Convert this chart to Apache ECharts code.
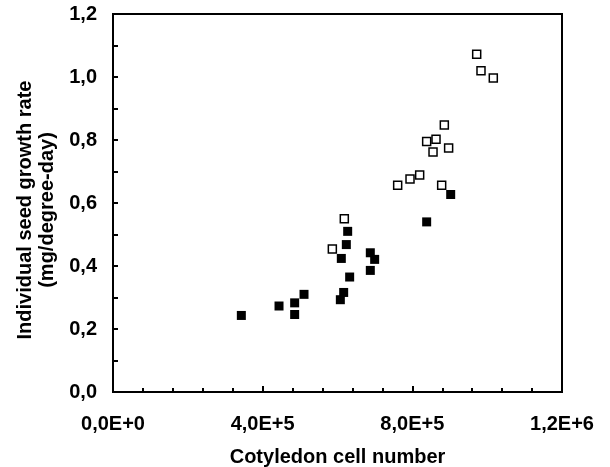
<!DOCTYPE html>
<html>
<head>
<meta charset="utf-8">
<script src="https://cdn.jsdelivr.net/npm/echarts@6/dist/echarts.min.js"></script>
<style>html,body{margin:0;padding:0;background:#fff;}#c{width:610px;height:467px;}</style>
</head>
<body>
<div id="c"></div>
<script>
// Open squares: [cell number, growth rate]
const openX = [972000, 983500, 1016400, 885500, 838300, 863300, 897000, 855300, 760800, 793800, 819600, 878400, 618200, 586200];
const openY = [1.072, 1.020, 0.997, 0.848, 0.795, 0.802, 0.775, 0.762, 0.656, 0.676, 0.689, 0.656, 0.550, 0.454];
// Filled squares
const filledX = [902500, 838300, 627200, 623600, 610200, 687700, 699300, 687700, 632500, 616500, 607600, 510500, 485500, 443700, 485500, 343000];
const filledY = [0.627, 0.540, 0.510, 0.468, 0.424, 0.442, 0.421, 0.386, 0.365, 0.316, 0.293, 0.310, 0.283, 0.273, 0.246, 0.243];
const xTicks = [0, 400000, 800000, 1200000];
const yTicks = [0, 0.2, 0.4, 0.6, 0.8, 1.0, 1.2];
const xName = 'Cotyledon cell number';
const yName = 'Individual seed growth rate\n(mg/degree-day)';

function sci(v) {
  if (v === 0) return '0,0E+0';
  const e = Math.floor(Math.log10(v) + 1e-9);
  const m = v / Math.pow(10, e);
  return m.toFixed(1).replace('.', ',') + 'E+' + e;
}
const font = 'Liberation Sans, Arial, sans-serif';
const chart = echarts.init(document.getElementById('c'), null, {renderer: 'canvas'});
chart.setOption({
  animation: false,
  backgroundColor: '#fff',
  grid: {left: 113, top: 14, right: 48, bottom: 75, containLabel: false, outerBoundsMode: 'none',
         show: true, borderColor: '#000', borderWidth: 2, backgroundColor: 'transparent'},
  xAxis: {
    type: 'value', min: xTicks[0], max: xTicks[xTicks.length - 1], interval: 400000,
    name: xName, nameLocation: 'middle', nameGap: 55,
    nameTextStyle: {fontFamily: font, fontWeight: 'bold', fontSize: 20, color: '#000'},
    axisLine: {show: true, lineStyle: {color: '#000', width: 2}},
    axisTick: {show: true, inside: true, length: 6, lineStyle: {color: '#000', width: 2}},
    minorTick: {show: true, splitNumber: 5, length: 4, lineStyle: {color: '#000', width: 2}},
    splitLine: {show: false},
    axisLabel: {margin: 22, fontFamily: font, fontWeight: 'bold', fontSize: 20, color: '#000', formatter: sci}
  },
  yAxis: {
    type: 'value', min: yTicks[0], max: yTicks[yTicks.length - 1], interval: 0.2,
    name: yName, nameLocation: 'middle', nameGap: 55,
    nameTextStyle: {fontFamily: font, fontWeight: 'bold', fontSize: 20, lineHeight: 22, color: '#000', padding: [0, 14, 0, 0]},
    axisLine: {show: true, lineStyle: {color: '#000', width: 2}},
    axisTick: {show: true, inside: true, length: 5, lineStyle: {color: '#000', width: 2}},
    minorTick: {show: true, splitNumber: 2, length: 5, lineStyle: {color: '#000', width: 2}},
    splitLine: {show: false},
    axisLabel: {margin: 16, fontFamily: font, fontWeight: 'bold', fontSize: 20, color: '#000', formatter: v => v.toFixed(1).replace('.', ',')}
  },
  series: [
    {type: 'scatter', symbol: 'rect', symbolSize: 8,
     itemStyle: {color: '#fff', borderColor: '#000', borderWidth: 1.5, opacity: 1},
     data: openX.map((x, i) => [x, openY[i]])},
    {type: 'scatter', symbol: 'rect', symbolSize: 9,
     itemStyle: {color: '#000', borderColor: '#000', borderWidth: 0, opacity: 1},
     data: filledX.map((x, i) => [x, filledY[i]])}
  ]
});
</script>
</body>
</html>
